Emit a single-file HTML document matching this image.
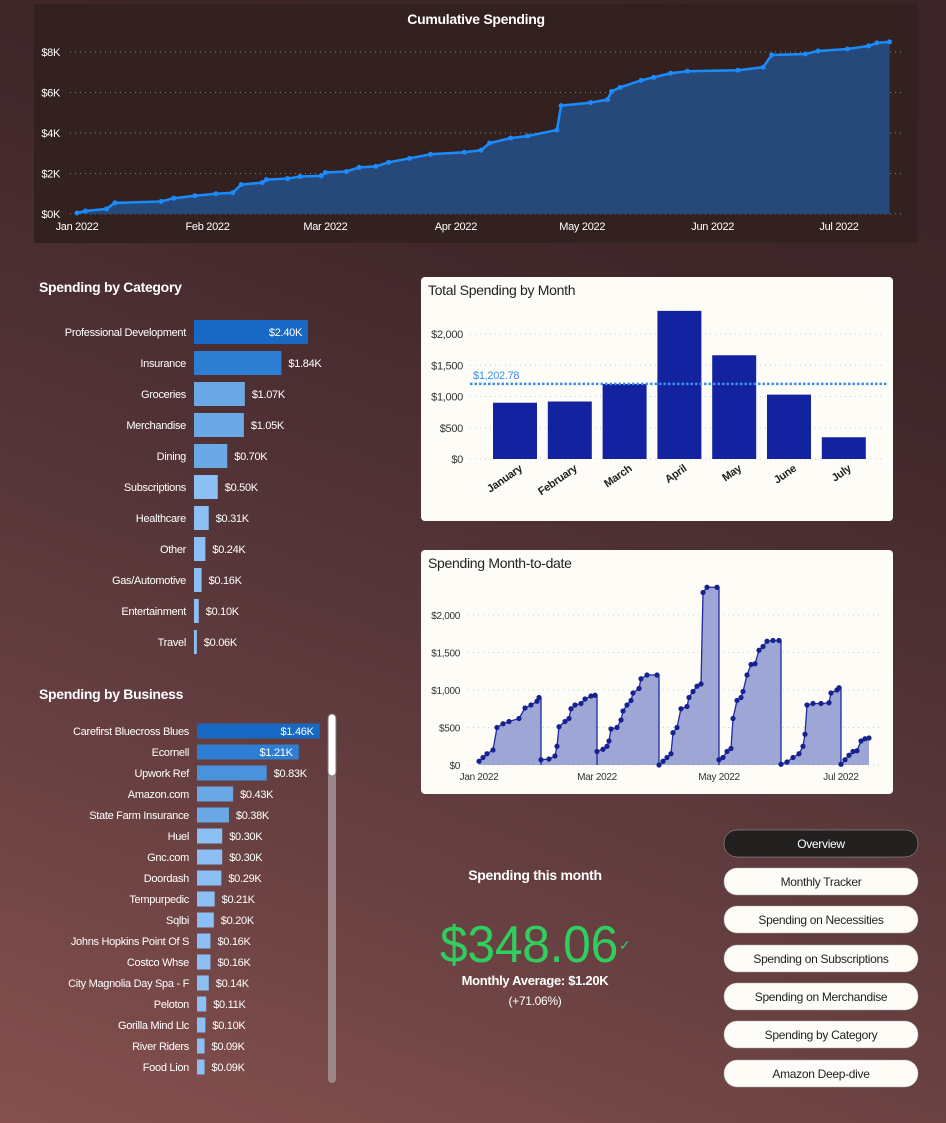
<!DOCTYPE html>
<html><head><meta charset="utf-8">
<style>
html,body{margin:0;padding:0;width:946px;height:1123px;overflow:hidden}
body{background:linear-gradient(20deg,#86514f 0%,#6a4142 25%,#523336 50%,#3e2629 75%,#3a2427 100%);font-family:"Liberation Sans",sans-serif}
svg text{font-family:"Liberation Sans",sans-serif;letter-spacing:-0.3px}
</style></head>
<body>
<svg id="s" width="946" height="1123" xmlns="http://www.w3.org/2000/svg">
<rect x="34" y="4" width="884" height="239" fill="#33211f"/>
<text x="476" y="24" fill="#fff" font-size="14" font-weight="bold" text-anchor="middle">Cumulative Spending</text>
<g id="cum"></g>
<text x="39" y="292" fill="#fff" font-size="14" font-weight="bold">Spending by Category</text>
<g id="cat"></g>
<text x="39" y="699" fill="#fff" font-size="14" font-weight="bold">Spending by Business</text>
<g id="bus"></g>
<rect x="328" y="714" width="8" height="369" rx="4" fill="#9c8788"/>
<rect x="328" y="714" width="8" height="62" rx="4" fill="#fff" stroke="#777" stroke-width="1"/>
<rect x="421" y="277" width="472" height="244" rx="4" fill="#fdfcf7"/>
<text x="428" y="295" fill="#222" font-size="14">Total Spending by Month</text>
<g id="mon"></g>
<rect x="421" y="550" width="472" height="244" rx="4" fill="#fdfcf7"/>
<text x="428" y="568" fill="#222" font-size="14">Spending Month-to-date</text>
<g id="mtd"></g>
<text x="535" y="880" fill="#fff" font-size="14" font-weight="bold" text-anchor="middle">Spending this month</text>
<text x="440" y="962" fill="#2fce5f" font-size="52" textLength="178" lengthAdjust="spacingAndGlyphs">$348.06</text>
<text x="619" y="950" fill="#2fce5f" font-size="14">✓</text>
<text x="535" y="985" fill="#fff" font-size="13" font-weight="bold" text-anchor="middle">Monthly Average: $1.20K</text>
<text x="535" y="1005" fill="#fff" font-size="12" text-anchor="middle">(+71.06%)</text>
<g id="nav"></g>
</svg>
<script>
// ---- data ----
const cumDays=[0,2,7,9,20,23,28,33,37,39,44,45,50,53,58,59,64,67,71,74,79,84,92,96,98,103,107,114,115,122,126,127,129,134,137,141,145,157,163,165,173,176,183,188,190,193];
const cumVals=[50,150,250,550,620,780,900,1000,1050,1450,1550,1700,1750,1850,1880,2050,2100,2300,2350,2550,2750,2950,3050,3150,3500,3750,3850,4150,5350,5500,5650,6050,6250,6600,6750,6950,7050,7100,7250,7850,7900,8050,8150,8300,8450,8500];
const cumTicks=[0,2000,4000,6000,8000];
const cumTickLabels=["$0K","$2K","$4K","$6K","$8K"];
const monthStarts=[0,31,59,90,120,151,181];
const monthLabels=["Jan 2022","Feb 2022","Mar 2022","Apr 2022","May 2022","Jun 2022","Jul 2022"];

const catNames=["Professional Development","Insurance","Groceries","Merchandise","Dining","Subscriptions","Healthcare","Other","Gas/Automotive","Entertainment","Travel"];
const catVals=[2.40,1.84,1.07,1.05,0.70,0.50,0.31,0.24,0.16,0.10,0.06];

const busNames=["Carefirst Bluecross Blues","Ecornell","Upwork Ref","Amazon.com","State Farm Insurance","Huel","Gnc.com","Doordash","Tempurpedic","Sqlbi","Johns Hopkins Point Of S","Costco Whse","City Magnolia Day Spa - F","Peloton","Gorilla Mind Llc","River Riders","Food Lion"];
const busVals=[1.46,1.21,0.83,0.43,0.38,0.30,0.30,0.29,0.21,0.20,0.16,0.16,0.14,0.11,0.10,0.09,0.09];

const monNames=["January","February","March","April","May","June","July"];
const monVals=[900,920,1200,2370,1660,1030,348];
const monAvg=1202.78;
const monTicks=[0,500,1000,1500,2000];
const monTickLabels=["$0","$500","$1,000","$1,500","$2,000"];

const mtdDays=[0,2,4,7,9,12,15,20,23,26,29,30, 31,35,38,39,40,43,45,46,48,51,53,56,58, 59,62,64,65,66,69,71,72,74,76,77,80,81,84,89, 90,92,94,96,97,99,101,104,105,107,109,111,112,114,119, 120,122,124,126,127,129,131,132,134,136,138,140,142,144,147,150, 151,154,157,160,162,163,164,167,171,175,176,179,180, 181,183,185,187,189,191,193,195];
const mtdVals=[50,100,150,200,500,550,580,620,760,800,850,900, 70,80,120,250,510,580,620,750,800,820,880,920,930, 180,210,250,320,480,500,600,720,800,860,960,1020,1150,1200,1200, 0,50,100,150,430,500,750,780,900,980,1050,1080,2300,2370,2370, 70,100,180,220,620,860,900,980,1200,1340,1350,1530,1580,1650,1660,1660, 10,40,100,150,250,410,800,820,820,830,960,1000,1030, 10,70,130,180,190,320,350,360];
const mtdTicks=[0,500,1000,1500,2000];
const mtdTickLabels=["$0","$500","$1,000","$1,500","$2,000"];
const mtdXTicks=[0,59,120,181];
const mtdXLabels=["Jan 2022","Mar 2022","May 2022","Jul 2022"];

const navLabels=["Overview","Monthly Tracker","Spending on Necessities","Spending on Subscriptions","Spending on Merchandise","Spending by Category","Amazon Deep-dive"];

const NS="http://www.w3.org/2000/svg";
function mk(p,tag,at,txt){const e=document.createElementNS(NS,tag);for(const k in at)e.setAttribute(k,at[k]);if(txt!=null)e.textContent=txt;p.appendChild(e);return e;}

// ---- cumulative ----
(function(){
const g=document.getElementById('cum');
const x=d=>77+d*4.21, y=v=>214-v*0.02025;
cumTicks.forEach((t,i)=>{
 const l=mk(g,'line',{x1:70,x2:903,y1:y(t),y2:y(t),stroke:'#8a7a78','stroke-dasharray':'1,4'});
 
 
 const tx=mk(g,'text',{x:60,y:y(t)+4,fill:'#fff','font-size':11,'text-anchor':'end'},cumTickLabels[i]);
 
 
});
monthStarts.forEach((d,i)=>{
 const tx=mk(g,'text',{x:x(d),y:230,fill:'#fff','font-size':11,'text-anchor':'middle'},monthLabels[i]);
 
 
});
let pts=cumDays.map((d,i)=>x(d)+','+y(cumVals[i])).join(' ');
const a=mk(g,'polygon',{points:x(cumDays[0])+','+y(0)+' '+pts+' '+x(cumDays[cumDays.length-1])+','+y(0),fill:'#27497a'});


const ln=mk(g,'polyline',{points:pts,fill:'none',stroke:'#1a8cff','stroke-width':2.5});


cumDays.forEach((d,i)=>{
 const c=mk(g,'circle',{cx:x(d),cy:y(cumVals[i]),r:2.5,fill:'#1a8cff'});
 
 
});
})();

// ---- horizontal bars ----
function hbars(id,names,vals,x0,y0,step,scale,h,fs,inside,prefix){
 const g=document.getElementById(id);
 const max=Math.max(...vals);
 names.forEach((n,i)=>{
  const cy=y0+i*step, w=vals[i]*scale;
  const f=vals[i]/max;
  const col=f>0.9?'#1769c4':f>0.7?'#2e7fd3':f>0.5?'#4a93dc':f>0.25?'#6aa8e6':'#8cc0f4';
  const lb=mk(g,'text',{x:x0-8,y:cy+4,fill:'#fff','font-size':fs,'text-anchor':'end'},n);
  
  
  const r=mk(g,'rect',{x:x0,y:cy-h/2,width:w,height:h,fill:col});
  
  
  const txt='$'+vals[i].toFixed(2)+'K';
  const isIn=vals[i]>=inside;
  const v=mk(g,'text',{x:isIn?x0+w-6:x0+w+7,y:cy+4,fill:'#fff','font-size':fs,'text-anchor':isIn?'end':'start'},txt);
  
  
 });
}
hbars('cat',catNames,catVals,194,332,31,47.5,24,11,2.0,'category');
hbars('bus',busNames,busVals,197,731,21,84,15,11,1.0,'business');

// ---- monthly bars ----
(function(){
const g=document.getElementById('mon');
const y=v=>459-v*0.0625, xc=i=>515+i*54.8;
monTicks.forEach((t,i)=>{
 const l=mk(g,'line',{x1:470,x2:885,y1:y(t),y2:y(t),stroke:'#ccc','stroke-dasharray':'1,4'});
 
 
 const tx=mk(g,'text',{x:463,y:y(t)+4,fill:'#333','font-size':11,'text-anchor':'end'},monTickLabels[i]);
 
 
});
monVals.forEach((v,i)=>{
 const r=mk(g,'rect',{x:xc(i)-22,y:y(v),width:44,height:y(0)-y(v),fill:'#1323a0'});
 
 
 const tx=mk(g,'text',{x:xc(i)+8,y:470,fill:'#222','font-size':11,'font-weight':'bold','text-anchor':'end',transform:'rotate(-35 '+(xc(i)+8)+' 470)'},monNames[i]);
 
 
});
const al=mk(g,'line',{x1:470,x2:887,y1:y(monAvg),y2:y(monAvg),stroke:'#3b8ff0','stroke-width':2.5,'stroke-dasharray':'2.5,2'});


const at=mk(g,'text',{x:473,y:y(monAvg)-5,fill:'#3b8ff0','font-size':11},'$'+monAvg.toLocaleString('en-US',{minimumFractionDigits:2}));


})();

// ---- month-to-date ----
(function(){
const g=document.getElementById('mtd');
const x=d=>479+d*2.0, y=v=>765-v*0.075;
mtdTicks.forEach((t,i)=>{
 const l=mk(g,'line',{x1:468,x2:880,y1:y(t),y2:y(t),stroke:'#ccc','stroke-dasharray':'1,4'});
 
 
 const tx=mk(g,'text',{x:460,y:y(t)+4,fill:'#333','font-size':10,'text-anchor':'end'},mtdTickLabels[i]);
 
 
});
mtdXTicks.forEach((d,i)=>{
 const tx=mk(g,'text',{x:x(d),y:780,fill:'#333','font-size':10,'text-anchor':'middle'},mtdXLabels[i]);
 
 
});
let pts=[];
mtdDays.forEach((d,i)=>{
 if(i>0 && mtdVals[i]<mtdVals[i-1]-30){pts.push(x(d)+','+y(mtdVals[i-1]));pts.push(x(d)+','+y(0));}
 pts.push(x(d)+','+y(mtdVals[i]));
});
const n=mtdDays.length-1;
const a=mk(g,'polygon',{points:x(mtdDays[0])+','+y(0)+' '+pts.join(' ')+' '+x(mtdDays[n])+','+y(0),fill:'#9ea6d6'});


const ln=mk(g,'polyline',{points:pts.join(' '),fill:'none',stroke:'#1e2aa0','stroke-width':1.3});


mtdDays.forEach((d,i)=>{
 const c=mk(g,'circle',{cx:x(d),cy:y(mtdVals[i]),r:2.6,fill:'#16228f'});
 
 
});
})();

// ---- nav ----
(function(){
const g=document.getElementById('nav');
const ys=[843,881,919,958,996,1034,1073];
navLabels.forEach((t,i)=>{
 const r=mk(g,'rect',{x:724,y:ys[i]-13,width:194,height:27,rx:13,fill:i==0?'#232020':'#fdfcf7',stroke:'#aaa','stroke-width':0.5});
 
 
 const tx=mk(g,'text',{x:821,y:ys[i]+5,fill:i==0?'#fff':'#222','font-size':12,'text-anchor':'middle'},t);
 
 
});
})();
</script>
</body></html>
